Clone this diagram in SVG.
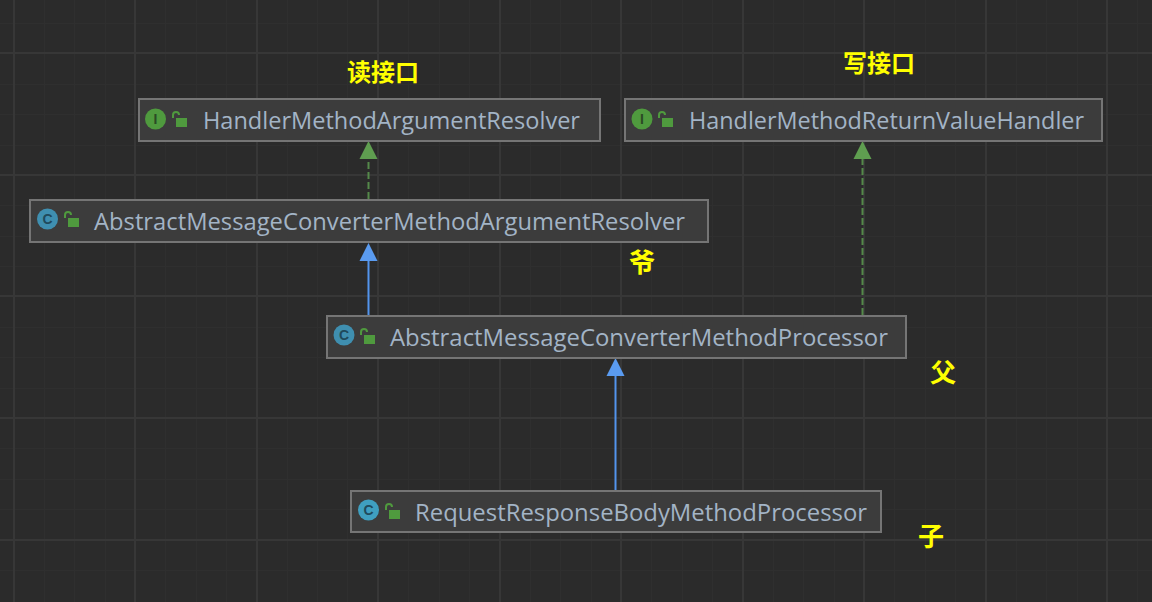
<svg xmlns="http://www.w3.org/2000/svg" width="1152" height="602" viewBox="0 0 1152 602">
<style>
.box{fill:#3c3c3c;stroke:#757575;stroke-width:2}
.t{font-family:"Open Sans","Liberation Sans",sans-serif;font-size:23.500px;fill:#a3b4c6}
.n{font-family:"Noto Sans CJK SC",sans-serif;font-size:24px;font-weight:700;fill:#ffff00}
.n2{font-size:26px}
.maj{stroke:#373737;stroke-width:2;fill:none}
.min{stroke:#2f2f2f;stroke-width:1;fill:none}
.ic{font-family:"Liberation Sans",sans-serif;font-size:14px;font-weight:700;text-anchor:middle}
.lock{fill:#4f9a3e}
.lk{fill:none;stroke:#4f9a3e;stroke-width:2}
.cg{fill:none;stroke:#55894a;stroke-width:2;stroke-dasharray:7 3}
.cb{fill:none;stroke:#5394ec;stroke-width:2}
</style>
<defs>
<g id="lockic"><rect x="3" y="3" width="11" height="9" class="lock"/><path d="M0 3V0a3 3 0 0 1 6 0" class="lk"/></g>
</defs>
<rect width="1152" height="602" fill="#2b2b2b"/>
<g id="grid">
<path class="min" d="M44.500 0V602M74.500 0V602M105.500 0V602M165.500 0V602M196.500 0V602M226.500 0V602M287.500 0V602M317.500 0V602M347.500 0V602M408.500 0V602M439.500 0V602M469.500 0V602M530.500 0V602M560.500 0V602M591.500 0V602M651.500 0V602M682.500 0V602M712.500 0V602M773.500 0V602M803.500 0V602M834.500 0V602M894.500 0V602M925.500 0V602M955.500 0V602M1016.500 0V602M1046.500 0V602M1077.500 0V602M1137.500 0V602M0 23.500H1152M0 84.500H1152M0 114.500H1152M0 145.500H1152M0 205.500H1152M0 236.500H1152M0 266.500H1152M0 327.500H1152M0 357.500H1152M0 388.500H1152M0 448.500H1152M0 479.500H1152M0 509.500H1152M0 570.500H1152"/>
<path class="maj" d="M14 0V602M135 0V602M257 0V602M378 0V602M500 0V602M621 0V602M743 0V602M864 0V602M986 0V602M1107 0V602M0 53H1152M0 175H1152M0 296H1152M0 418H1152M0 540H1152"/>
</g>
<g id="connectors">
<path class="cg" d="M368.500 199V158"/><path d="M359.500 159L368.500 141L377.500 159Z" fill="#5f9e50"/>
<path class="cg" d="M862.500 315V158"/><path d="M853.500 159L862.500 141L871.500 159Z" fill="#5f9e50"/>
<path class="cb" d="M368.500 315V260"/><path d="M359.500 261L368.500 243L377.500 261Z" fill="#5a9bf0"/>
<path class="cb" d="M615.500 490V375"/><path d="M606.500 376L615.500 358L624.500 376Z" fill="#5a9bf0"/>
</g>
<g id="node-hmar">
<rect class="box" x="139" y="99" width="461" height="42"/>
<circle cx="155.500" cy="119" r="10.500" fill="#4f9a3e"/><text class="ic" x="155.500" y="124" fill="#2b4a25">I</text>
<use href="#lockic" x="173" y="115"/>
<text class="t" x="203" y="129" textLength="377" lengthAdjust="spacingAndGlyphs">HandlerMethodArgumentResolver</text>
</g>
<g id="node-hmrvh">
<rect class="box" x="625" y="99" width="477" height="42"/>
<circle cx="642" cy="119" r="10.500" fill="#4f9a3e"/><text class="ic" x="642" y="124" fill="#2b4a25">I</text>
<use href="#lockic" x="659" y="115"/>
<text class="t" x="689" y="129" textLength="395" lengthAdjust="spacingAndGlyphs">HandlerMethodReturnValueHandler</text>
</g>
<g id="node-amcmar">
<rect class="box" x="30" y="200" width="678" height="42"/>
<circle cx="47.500" cy="219" r="10.500" fill="#3f8fb0"/><text class="ic" x="47.500" y="224" fill="#1f4a5c">C</text>
<use href="#lockic" x="65" y="215"/>
<text class="t" x="94" y="230" textLength="591" lengthAdjust="spacingAndGlyphs">AbstractMessageConverterMethodArgumentResolver</text>
</g>
<g id="node-amcmp">
<rect class="box" x="327" y="316" width="579" height="42"/>
<circle cx="344" cy="335" r="10.500" fill="#3f8fb0"/><text class="ic" x="344" y="340" fill="#1f4a5c">C</text>
<use href="#lockic" x="361" y="332"/>
<text class="t" x="390" y="346" textLength="498" lengthAdjust="spacingAndGlyphs">AbstractMessageConverterMethodProcessor</text>
</g>
<g id="node-rrbmp">
<rect class="box" x="351" y="491" width="530" height="41"/>
<circle cx="368.500" cy="510" r="10.500" fill="#3f9fc0"/><text class="ic" x="368.500" y="515" fill="#1f4a5c">C</text>
<use href="#lockic" x="386" y="507"/>
<text class="t" x="415" y="521" textLength="452" lengthAdjust="spacingAndGlyphs">RequestResponseBodyMethodProcessor</text>
</g>
<g id="notes">
<text class="n" x="347" y="81">读接口</text>
<text class="n" x="843" y="72">写接口</text>
<text class="n n2" x="629" y="272">爷</text>
<text class="n n2" x="930" y="382">父</text>
<text class="n n2" x="918" y="546">子</text>
</g>
</svg>
